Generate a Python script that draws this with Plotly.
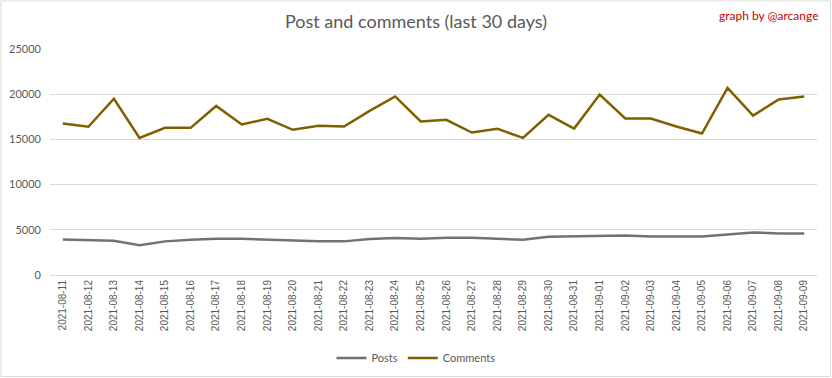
import plotly.graph_objects as go

dates = ["2021-08-11", "2021-08-12", "2021-08-13", "2021-08-14", "2021-08-15", "2021-08-16",
         "2021-08-17", "2021-08-18", "2021-08-19", "2021-08-20", "2021-08-21", "2021-08-22",
         "2021-08-23", "2021-08-24", "2021-08-25", "2021-08-26", "2021-08-27", "2021-08-28",
         "2021-08-29", "2021-08-30", "2021-08-31", "2021-09-01", "2021-09-02", "2021-09-03",
         "2021-09-04", "2021-09-05", "2021-09-06", "2021-09-07", "2021-09-08", "2021-09-09"]

posts = [3940, 3900, 3790, 3280, 3720, 3900, 4010, 4010, 3900, 3830, 3720, 3720, 3980, 4090,
         4010, 4120, 4120, 4010, 3900, 4240, 4270, 4380, 4380, 4270, 4270, 4270, 4490, 4710,
         4600, 4600]

comments = [16750, 16400, 19500, 15170, 16280, 16280, 18700, 16650, 17280, 16060, 16500, 16430,
            18150, 19750, 16980, 17160, 15760, 16170, 15170, 17720, 16200, 19960, 17310, 17310,
            16430, 15650, 20700, 17640, 19410, 19740]

y_ticks = [0, 5000, 10000, 15000, 20000, 25000]

TEXT = "#595959"
GRID = "#D9D9D9"

fig = go.Figure()
fig.add_trace(go.Scatter(x=dates, y=posts, mode="lines", name="Posts",
                         line=dict(color="#767171", width=2.5)))
fig.add_trace(go.Scatter(x=dates, y=comments, mode="lines", name="Comments",
                         line=dict(color="#7F6000", width=2.5)))

fig.update_layout(
    width=832, height=378,
    margin=dict(l=50, r=15, t=49, b=103, autoexpand=False),
    paper_bgcolor="white", plot_bgcolor="white",
    font=dict(family="Lato, Liberation Sans, sans-serif", color=TEXT),
    title=dict(text="Post and comments (last 30 days)", x=0.5, xanchor="center",
               y=1 - 22 / 378, yanchor="middle",
               font=dict(size=18, color=TEXT, family="Lato, sans-serif")),
    showlegend=True,
    legend=dict(orientation="h", x=(416 - 50) / 767, xanchor="center",
                y=(275 - 358) / 226, yanchor="middle",
                font=dict(size=11, color=TEXT), itemwidth=30),
    xaxis=dict(type="category", tickangle=-90, automargin=False,
               tickfont=dict(size=10, color=TEXT, family="Liberation Sans, sans-serif"),
               showgrid=False, showline=True, linecolor=GRID, ticks="", range=[-0.5, 29.5]),
    yaxis=dict(range=[0, 25000], tickvals=y_ticks, ticktext=[str(v) for v in y_ticks],
               automargin=False, ticklabelstandoff=8,
               showgrid=True, gridcolor=GRID, zeroline=False, showline=False,
               tickfont=dict(size=11, color=TEXT), ticks=""),
    annotations=[dict(text="graph by @arcange", xref="paper", yref="paper",
                      x=(821 - 50) / 767, xanchor="right", y=(275 - 15) / 226, yanchor="middle",
                      showarrow=False, font=dict(size=12, color="#C00000"))],
    shapes=[dict(type="rect", xref="paper", yref="paper",
                 x0=(1 - 50) / 767, x1=(830.5 - 50) / 767,
                 y0=(275 - 376.5) / 226, y1=(275 - 1) / 226,
                 line=dict(color=GRID, width=1), layer="below")],
)

fig.write_html("out.html", config={"displayModeBar": False},
               post_script="document.body.style.margin='0';")
